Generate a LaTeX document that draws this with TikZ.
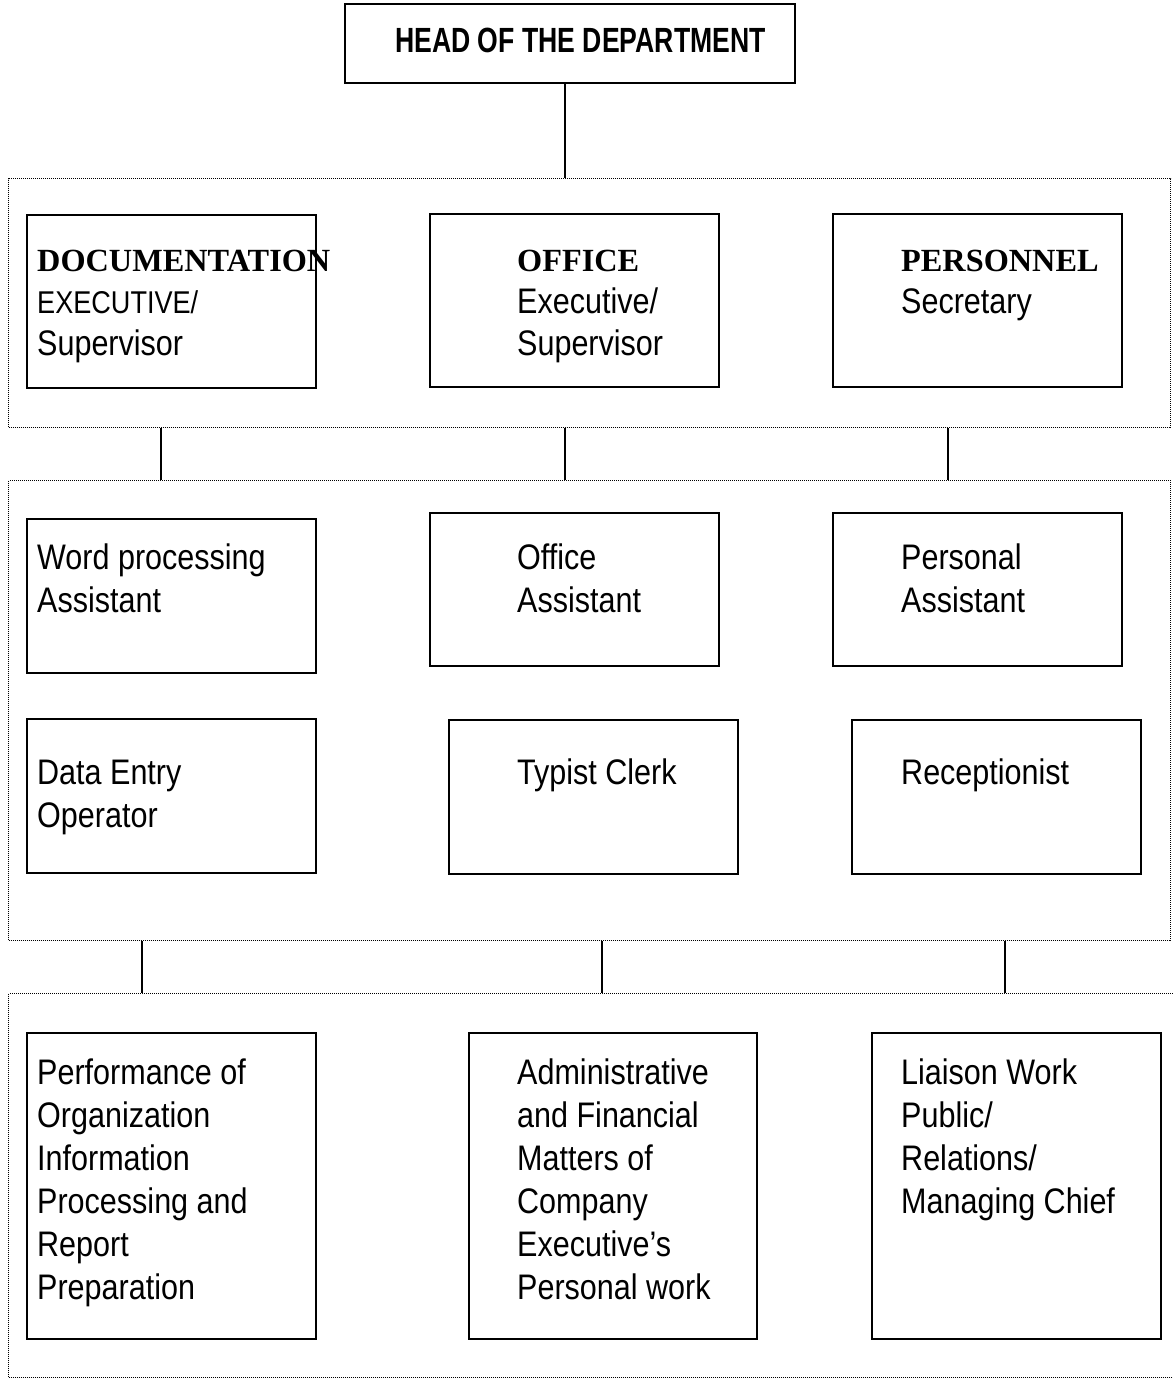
\documentclass[tikz,border=0pt]{standalone}
\usepackage{fontspec}
\newfontfamily\sansc{Liberation Sans}[FakeStretch=0.86]
\newfontfamily\headf{Liberation Sans}[FakeStretch=0.76]
\newfontfamily\serifb{Liberation Serif}
\newcommand\bodytxt[1]{\parbox[t]{400pt}{\sansc\fontsize{35.5}{43}\selectfont #1}}
\newcommand\hdtxt[3]{\parbox[t]{400pt}{\fontsize{35}{42}\selectfont{\serifb\bfseries\fontsize{32.3}{42}\selectfont #1}\\{\sansc\fontsize{#3}{42}\selectfont #2}}}
\begin{document}
\begin{tikzpicture}[x=1pt,y=-1pt,
  box/.style={draw=black,line width=1.6pt,inner sep=0pt,anchor=north west},
  grp/.style={draw=black,line width=1.1pt,dash pattern=on 1pt off 1pt,inner sep=0pt,anchor=north west},
  lbl/.style={inner sep=0pt,anchor=base west},
  conn/.style={draw=black,line width=1.6pt}]
\useasboundingbox (0,0) rectangle (1172,1378);
% groups
\node[grp,minimum width=1162pt,minimum height=249pt] (g1) at (8,178) {};
\node[grp,minimum width=1162pt,minimum height=460pt] (g2) at (8,480) {};
\node[grp,minimum width=1175pt,minimum height=384pt] (g3) at (8,993) {};
% head
\node[box,minimum width=450pt,minimum height=79pt] (head) at (344,3) {};
\node[lbl] (thead) at (395,53) {\headf\bfseries\fontsize{35}{40}\selectfont HEAD OF THE DEPARTMENT};
% row 1
\node[box,minimum width=289pt,minimum height=173pt] (doc) at (26,214) {};
\node[box,minimum width=289pt,minimum height=173pt] (off) at (429,213) {};
\node[box,minimum width=289pt,minimum height=173pt] (per) at (832,213) {};
\node[lbl] (tdoc) at (37,271) {\hdtxt{DOCUMENTATION}{\fontsize{31.5}{42}\selectfont EXECUTIVE/\\ \fontsize{35.5}{42}\selectfont Supervisor}{31.5}};
\node[lbl] (toff) at (517,271) {\hdtxt{OFFICE}{Executive/\\Supervisor}{35.5}};
\node[lbl] (tper) at (901,271) {\hdtxt{PERSONNEL}{Secretary}{35.5}};
% row 2
\node[box,minimum width=289pt,minimum height=154pt] (wp) at (26,518) {};
\node[box,minimum width=289pt,minimum height=153pt] (oa) at (429,512) {};
\node[box,minimum width=289pt,minimum height=153pt] (pa) at (832,512) {};
\node[lbl] (twp) at (37,569) {\bodytxt{Word processing\\Assistant}};
\node[lbl] (toa) at (517,569) {\bodytxt{Office\\Assistant}};
\node[lbl] (tpa) at (901,569) {\bodytxt{Personal\\Assistant}};
% row 3
\node[box,minimum width=289pt,minimum height=154pt] (de) at (26,718) {};
\node[box,minimum width=289pt,minimum height=154pt] (tc) at (448,719) {};
\node[box,minimum width=289pt,minimum height=154pt] (rc) at (851,719) {};
\node[lbl] (tde) at (37,784) {\bodytxt{Data Entry\\Operator}};
\node[lbl] (ttc) at (517,784) {\bodytxt{Typist Clerk}};
\node[lbl] (trc) at (901,784) {\bodytxt{Receptionist}};
% row 4
\node[box,minimum width=289pt,minimum height=306pt] (pf) at (26,1032) {};
\node[box,minimum width=288pt,minimum height=306pt] (ad) at (468,1032) {};
\node[box,minimum width=289pt,minimum height=306pt] (li) at (871,1032) {};
\node[lbl] (tpf) at (37,1084) {\bodytxt{Performance of\\Organization\\Information\\Processing and\\Report\\Preparation}};
\node[lbl] (tad) at (517,1084) {\bodytxt{Administrative\\and Financial\\Matters of\\Company\\Executive’s\\Personal work}};
\node[lbl] (tli) at (901,1084) {\bodytxt{Liaison Work\\Public/\\Relations/\\Managing Chief}};
% connector x positions
\coordinate (xa) at (565,0);
\coordinate (xb) at (161,0);
\coordinate (xc) at (948,0);
\coordinate (xd) at (142,0);
\coordinate (xe) at (602,0);
\coordinate (xf) at (1005,0);
\draw[conn] (head.south -| xa) -- (g1.north -| xa);
\draw[conn] (g1.south -| xb) -- (g2.north -| xb);
\draw[conn] (g1.south -| xa) -- (g2.north -| xa);
\draw[conn] (g1.south -| xc) -- (g2.north -| xc);
\draw[conn] (g2.south -| xd) -- (g3.north -| xd);
\draw[conn] (g2.south -| xe) -- (g3.north -| xe);
\draw[conn] (g2.south -| xf) -- (g3.north -| xf);
\end{tikzpicture}
\end{document}
